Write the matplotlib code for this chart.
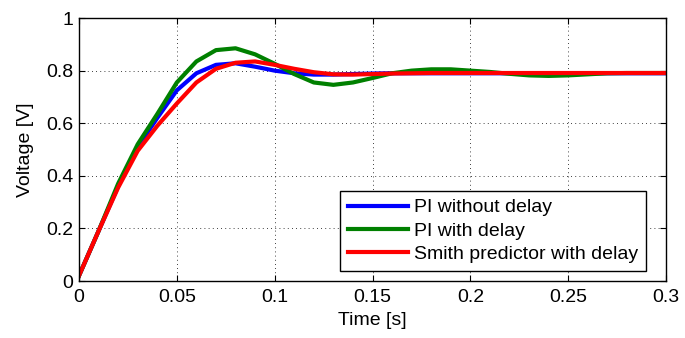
import matplotlib
matplotlib.use("Agg")
import matplotlib.pyplot as plt

# step response samples
time = [0.00, 0.01, 0.02, 0.03, 0.04, 0.05, 0.06, 0.07, 0.08, 0.09,
        0.10, 0.11, 0.12, 0.13, 0.14, 0.15, 0.16, 0.17, 0.18, 0.19,
        0.20, 0.21, 0.22, 0.23, 0.24, 0.25, 0.26, 0.27, 0.28, 0.29, 0.30]
pi_no_delay = [0.02, 0.19, 0.36, 0.51, 0.62, 0.725, 0.79, 0.822, 0.828, 0.815,
               0.80, 0.79, 0.785, 0.785, 0.787, 0.789, 0.79, 0.79, 0.79, 0.79,
               0.79, 0.79, 0.79, 0.79, 0.79, 0.79, 0.79, 0.79, 0.79, 0.79, 0.79]
pi_delay = [0.02, 0.19, 0.37, 0.52, 0.635, 0.755, 0.835, 0.878, 0.885, 0.862,
            0.826, 0.787, 0.755, 0.746, 0.755, 0.772, 0.79, 0.80, 0.805, 0.805,
            0.80, 0.795, 0.788, 0.782, 0.78, 0.782, 0.786, 0.79, 0.791, 0.791, 0.791]
smith = [0.02, 0.19, 0.355, 0.495, 0.59, 0.675, 0.755, 0.807, 0.83, 0.835,
         0.822, 0.807, 0.794, 0.786, 0.785, 0.787, 0.789, 0.79, 0.791, 0.791,
         0.791, 0.791, 0.791, 0.791, 0.791, 0.791, 0.791, 0.791, 0.791, 0.791, 0.791]

plt.rcParams['font.family'] = ['Liberation Sans', 'DejaVu Sans']
plt.rcParams['font.size'] = 14

fig = plt.figure(figsize=(6.85, 3.38), dpi=100)
ax = fig.add_axes([0.1153, 0.1686, 0.857, 0.778])

ax.plot(time, pi_no_delay, color='#0000ff', lw=3, label='PI without delay')
ax.plot(time, pi_delay, color='#008000', lw=3, label='PI with delay')
ax.plot(time, smith, color='#ff0000', lw=3, label='Smith predictor with delay')

ax.set_xlim(0, 0.3)
ax.set_ylim(0, 1)
ax.set_xticks([0, 0.05, 0.1, 0.15, 0.2, 0.25, 0.3])
ax.set_xticklabels(['0', '0.05', '0.1', '0.15', '0.2', '0.25', '0.3'])
ax.set_yticks([0, 0.2, 0.4, 0.6, 0.8, 1])
ax.set_yticklabels(['0', '0.2', '0.4', '0.6', '0.8', '1'])
ax.tick_params(direction='in', top=True, right=True, length=4, width=0.8, labelsize=14)
ax.tick_params(axis='x', pad=6)
ax.tick_params(axis='y', pad=4)
ax.grid(True, color='black', linestyle=(0, (1, 4)), linewidth=0.6)
for s in ax.spines.values():
    s.set_linewidth(1)

ax.set_xlabel('Time [s]', fontsize=14, labelpad=4)
ax.set_ylabel('Voltage [V]', fontsize=14, labelpad=9)

leg = ax.legend(loc='lower right', fontsize=14, handlelength=3.1, handletextpad=0.3,
                fancybox=False, framealpha=1, edgecolor='black', borderpad=0.4,
                labelspacing=0.3, borderaxespad=0, bbox_to_anchor=(0.966, 0.038))
leg.get_frame().set_linewidth(1)

fig.savefig('out.png', dpi=100)
